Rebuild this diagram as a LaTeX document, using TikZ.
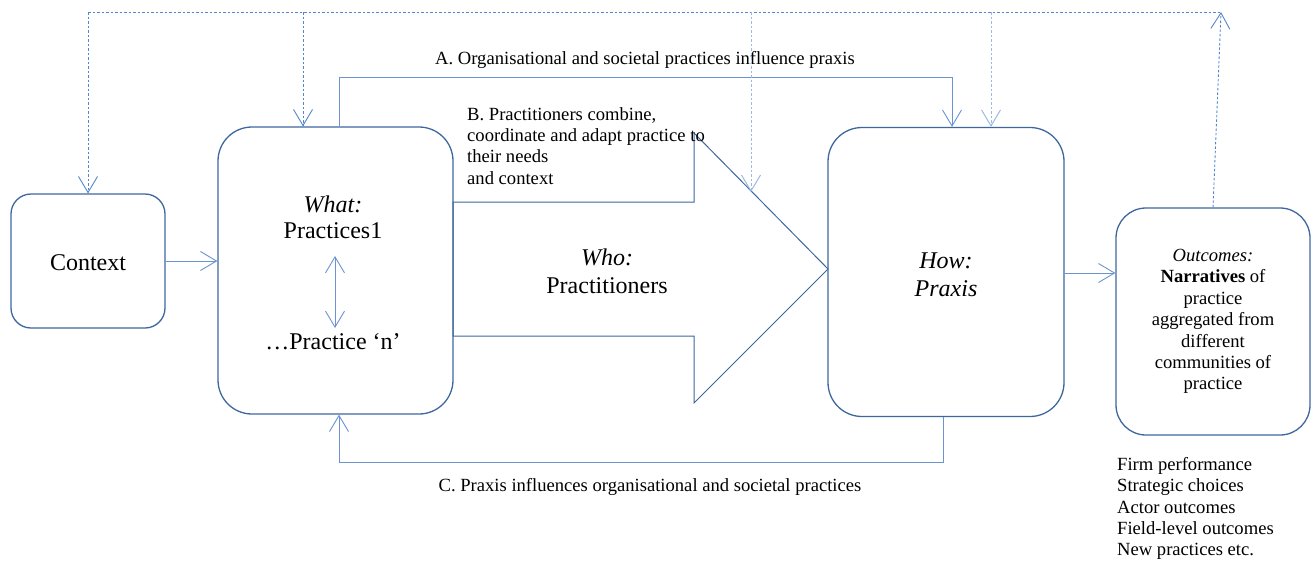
\documentclass[tikz,border=0pt]{standalone}
\usepackage{fontspec}
\setmainfont{Liberation Serif}
\usetikzlibrary{arrows.meta}
\definecolor{boxblue}{HTML}{3E679E}
\definecolor{linkblue}{HTML}{6A93CF}
\definecolor{dotblue}{HTML}{5585CC}
\definecolor{paleblue}{HTML}{9DB8E2}
\newcommand{\bigtxt}{\fontsize{24}{28}\selectfont}
\newcommand{\smalltxt}{\fontsize{18.6}{21.4}\selectfont}
\begin{document}
\begin{tikzpicture}[x=1pt,y=-1pt,
  >={Straight Barb[length=16pt,width=19pt]},
  box/.style={draw=boxblue, line width=1.3pt, rounded corners=#1, inner sep=0pt, align=center},
  link/.style={draw=linkblue, line width=0.9pt},
  dotline/.style={draw=dotblue, line width=0.9pt, dash pattern=on 2.5pt off 2pt},
  paledot/.style={draw=paleblue, line width=1pt, dash pattern=on 2.5pt off 2pt},
  txt/.style={inner sep=0pt, align=center, font=\smalltxt},
  bigt/.style={inner sep=0pt, align=center, font=\bigtxt}
]
\useasboundingbox (0,0) rectangle (1311,565);

% boxes
\node[box=20pt, minimum width=154pt, minimum height=134pt] (context) at (88,261) {};
\node[bigt] (contextlbl) at (88,263) {Context};
\node[box=34pt, minimum width=235pt, minimum height=287pt] (what) at (335.5,270.5) {};
\node[box=34pt, minimum width=236pt, minimum height=289pt] (how) at (946,272) {};
\node[bigt, font=\bigtxt\itshape] (howlbl) at (946,275) {How:\\Praxis};
\node[box=30pt, minimum width=194pt, minimum height=227pt, font=\smalltxt] (out) at (1213,321.5)
  {\textit{Outcomes:}\\\textbf{Narratives} of\\practice\\aggregated from\\different\\communities of\\practice};

% texts in What box
\node[bigt] (whatlbl) at (333,204) {\textit{What:}};
\node[bigt] (prac1) at (333,231) {Practices1};
\node[bigt] (pracn) at (333,342) {…Practice ‘n’};
\coordinate (dtop) at (335,256);
\coordinate (dbot) at (335,328);
\draw[link,<->] (dtop) -- (dbot);

% big arrow
\coordinate (s1) at (453,202);
\coordinate (s2) at (694,202);
\coordinate (h1) at (694,133);
\coordinate (tip) at (828,269);
\coordinate (h2) at (694,403);
\coordinate (s3) at (694,336);
\coordinate (s4) at (453,336);
\draw[draw=boxblue, line width=1pt] (s1) -- (s2) -- (h1) -- (tip) -- (h2) -- (s3) -- (s4) -- cycle;
\node[bigt] (who) at (607,271) {\textit{Who:}\\Practitioners};

% B text
\node[txt, align=left, anchor=north west] (btxt) at (467,107)
  {B. Practitioners combine,\\coordinate and adapt practice to\\their needs\\and context};

% A connector
\node[txt] (atxt) at (645,60) {A. Organisational and societal practices influence praxis};
\draw[link,->] ([xshift=3.5pt]what.north) -- ++(0,-49) -| ([xshift=6pt]how.north);

% C connector
\node[txt] (ctxt) at (650,487) {C. Praxis influences organisational and societal practices};
\draw[link,->] ([xshift=-3pt]how.south) -- ++(0,45) -| ([xshift=3.5pt]what.south);

% horizontal links
\draw[link,->] (context.east) -- (context.east -| what.west);
\draw[link,->] ([yshift=-1pt]how.east) -- ([yshift=-1pt]how.east -| out.west);

% dotted feedback
\coordinate (tl) at (88,12);
\coordinate (tr) at (1221,12);
\coordinate (hd) at (751,192);
\draw[dotline] (tl) -- (tr);
\draw[dotline,->] (out.north) -- (tr);
\draw[dotline,->] (tl) -- (context.north);
\draw[dotline,->] ([xshift=-32.5pt]what.north |- tl) -- ([xshift=-32.5pt]what.north);
\draw[paledot,->] (hd |- tl) -- (hd);
\draw[paledot,->] ([xshift=45pt]how.north |- tl) -- ([xshift=45pt]how.north);

% outcome list
\node[txt, align=left, anchor=north west] (list) at (1117,457)
  {Firm performance\\Strategic choices\\Actor outcomes\\Field-level outcomes\\New practices etc.};
\end{tikzpicture}
\end{document}
